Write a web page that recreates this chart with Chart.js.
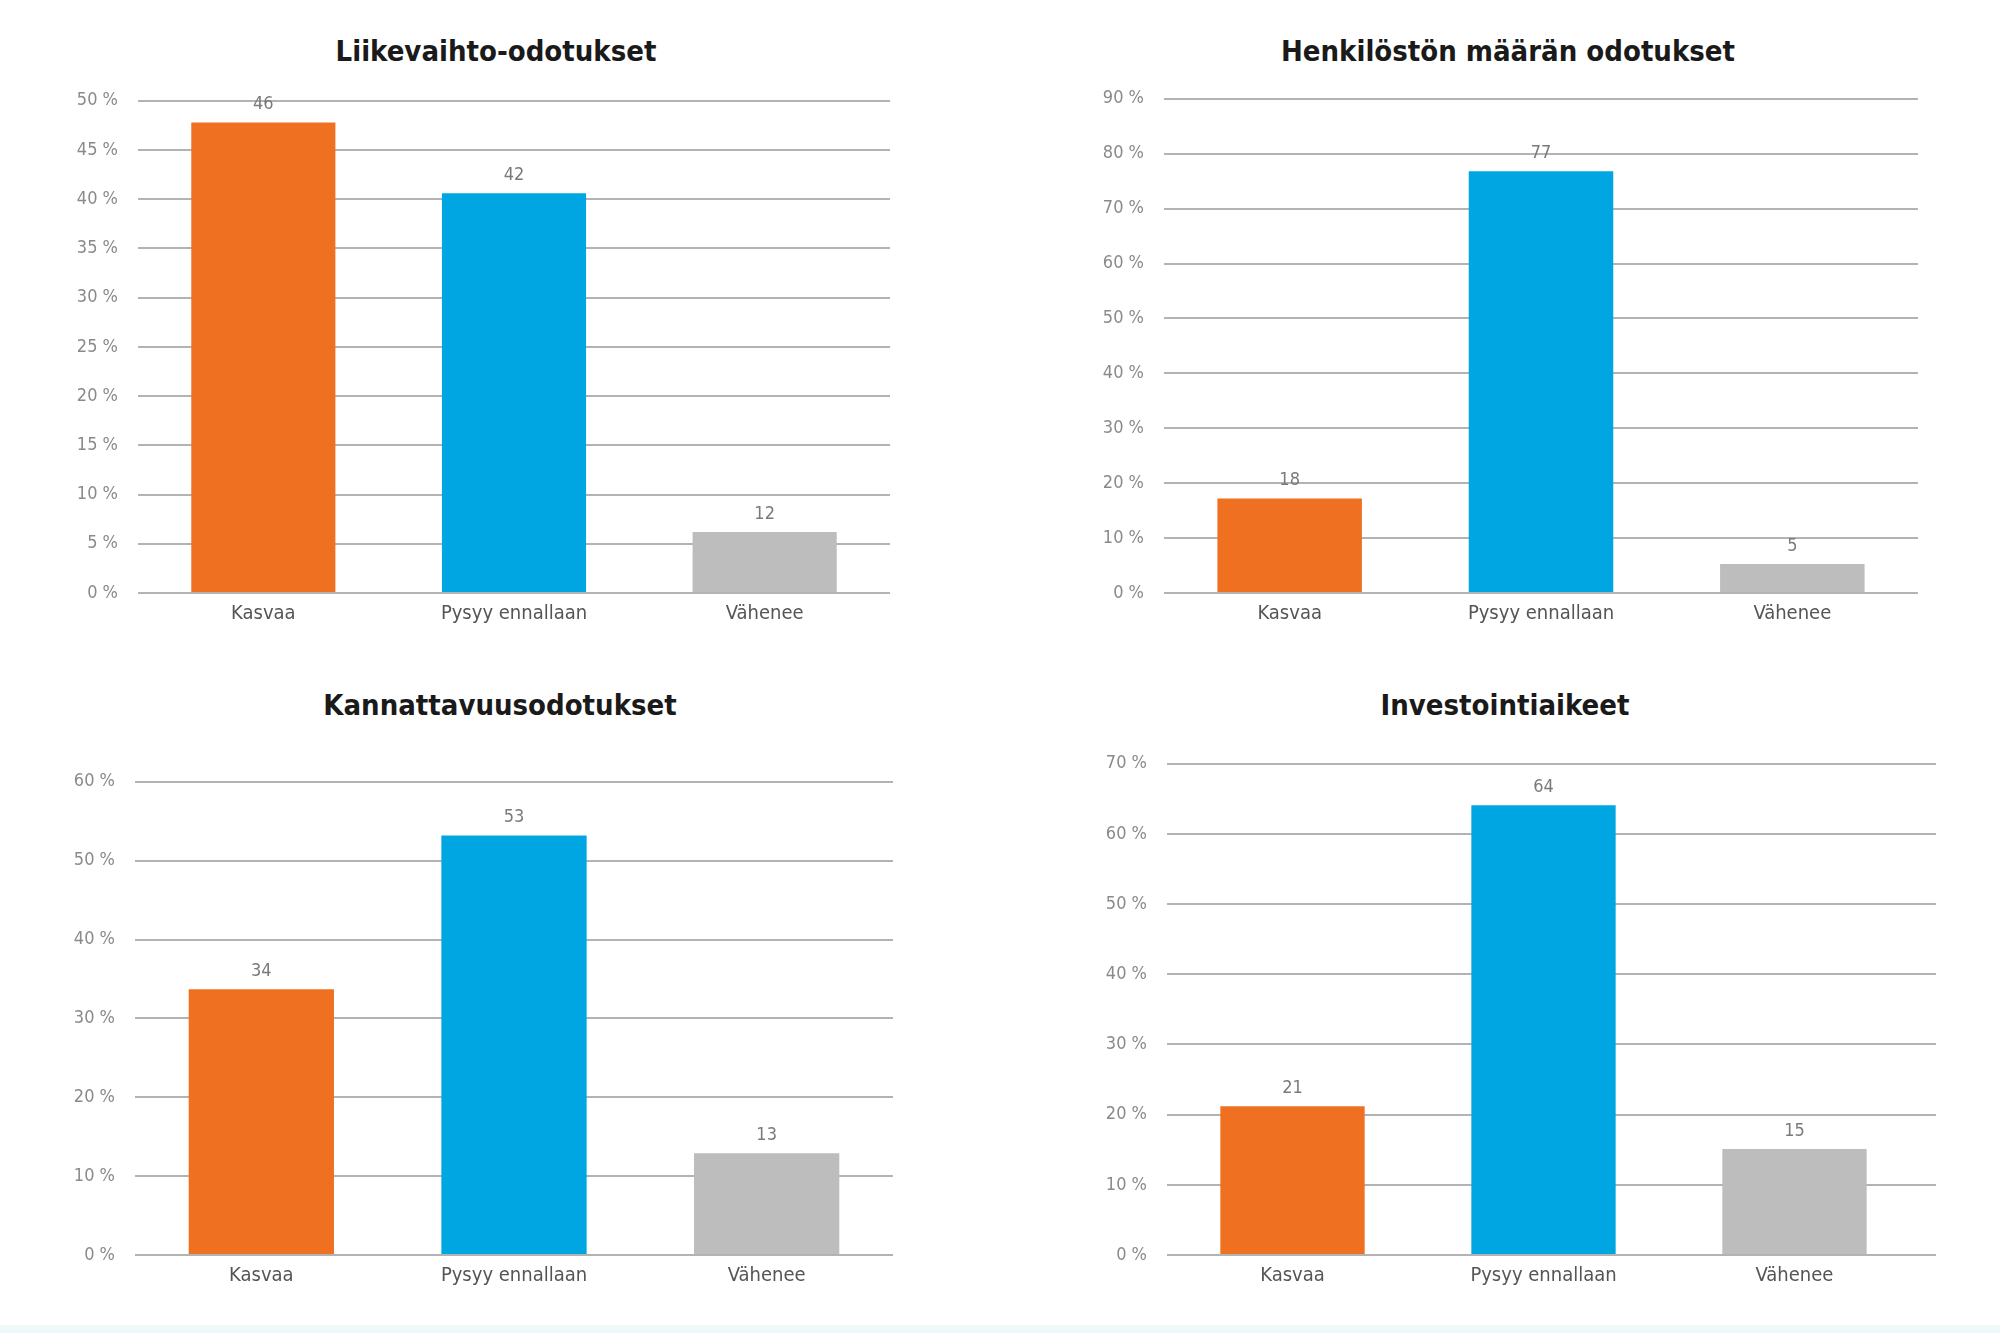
<!DOCTYPE html>
<html>
<head>
<meta charset="utf-8">
<script src="https://cdn.jsdelivr.net/npm/chart.js@4.4.1/dist/chart.umd.min.js"></script>
<style>
  body { margin: 0; background: #fff; width: 2000px; height: 1333px; position: relative; overflow: hidden; }
  .box { position: absolute; }
  .title { position: absolute; width: 700px; text-align: center; font-family: 'DejaVu Sans Condensed', 'DejaVu Sans', sans-serif; font-weight: bold; font-size: 29px; color: #1a1a1a; }
  .strip { position: absolute; left: 0; top: 1325px; width: 2000px; height: 8px; background: #eefafa; }
</style>
</head>
<body>

<div class="title" style="left:146px; top:34px;">Liikevaihto-odotukset</div>
<div class="title" style="left:1158px; top:34px;">Henkilöstön määrän odotukset</div>
<div class="title" style="left:150px; top:688px;">Kannattavuusodotukset</div>
<div class="title" style="left:1155px; top:688px;">Investointiaikeet</div>

<div class="box" id="b1"><canvas id="c1"></canvas></div>
<div class="box" id="b2"><canvas id="c2"></canvas></div>
<div class="box" id="b3"><canvas id="c3"></canvas></div>
<div class="box" id="b4"><canvas id="c4"></canvas></div>
<div class="strip"></div>

<script>
// categories shared by all four charts
const categories = ['Kasvaa', 'Pysyy ennallaan', 'Vähenee'];
const barColors = ['#f07022', '#00a6e2', '#bdbdbe'];

// bar heights as drawn, and the numbers printed above them
const revenueValues = [47.8, 40.6, 6.2];
const revenueLabels = ['46', '42', '12'];

const staffValues = [17.2, 76.8, 5.3];
const staffLabels = ['18', '77', '5'];

const profitValues = [33.7, 53.2, 12.9];
const profitLabels = ['34', '53', '13'];

const investValues = [21.2, 64.1, 15.1];
const investLabels = ['21', '64', '15'];

// y axis ranges
const revenueAxis = { max: 50, step: 5 };
const staffAxis = { max: 90, step: 10 };
const profitAxis = { max: 60, step: 10 };
const investAxis = { max: 70, step: 10 };

const FONT = "'DejaVu Sans Condensed', 'DejaVu Sans', sans-serif";
const Y_W = 80, PAD_TOP = 30, PAD_RIGHT = 24, X_H = 50;
const GRID_COLOR = '#b3b3b3';

const valueLabels = {
  id: 'valueLabels',
  afterDatasetsDraw(chart, args, opts) {
    const ctx = chart.ctx;
    const meta = chart.getDatasetMeta(0);
    ctx.save();
    ctx.font = '18px ' + FONT;
    ctx.fillStyle = '#7a7a7a';
    ctx.textAlign = 'center';
    ctx.textBaseline = 'bottom';
    meta.data.forEach((bar, i) => {
      ctx.fillText(opts.labels[i], bar.x, bar.y - 9);
    });
    ctx.restore();
  }
};

// last chart's gridlines run a bit past the bar area on the right
const gridExtend = {
  id: 'gridExtend',
  beforeDatasetsDraw(chart, args, opts) {
    if (!opts.right) return;
    const ctx = chart.ctx;
    const y = chart.scales.y;
    ctx.save();
    ctx.strokeStyle = GRID_COLOR;
    ctx.lineWidth = 2;
    y.ticks.forEach((t) => {
      const py = Math.round(y.getPixelForValue(t.value));
      ctx.beginPath();
      ctx.moveTo(chart.chartArea.right, py);
      ctx.lineTo(chart.chartArea.right + opts.right, py);
      ctx.stroke();
    });
    ctx.restore();
  }
};

function makeChart(id, box, values, labels, axis, extra) {
  // box = grid left, grid right, top gridline y, zero line y (page px)
  const el = document.getElementById('b' + id);
  const w = Math.round(box.right - box.left + Y_W + PAD_RIGHT);
  const h = Math.round(box.zero - box.top + PAD_TOP + X_H);
  el.style.left = Math.round(box.left - Y_W) + 'px';
  el.style.top = Math.round(box.top - PAD_TOP) + 'px';
  const cv = document.getElementById('c' + id);
  cv.width = w;
  cv.height = h;

  new Chart(cv.getContext('2d'), {
    type: 'bar',
    data: {
      labels: categories,
      datasets: [{
        data: values,
        backgroundColor: barColors,
        categoryPercentage: 1,
        barPercentage: 0.575
      }]
    },
    options: {
      responsive: false,
      animation: false,
      devicePixelRatio: 1,
      layout: { padding: { top: PAD_TOP, right: PAD_RIGHT, left: 0, bottom: 0 } },
      plugins: {
        legend: { display: false },
        tooltip: { enabled: false },
        valueLabels: { labels: labels },
        gridExtend: { right: extra || 0 }
      },
      scales: {
        x: {
          grid: { display: false, drawTicks: false },
          border: { display: false },
          ticks: { color: '#555', font: { family: FONT, size: 20 }, padding: 9 },
          afterFit: (s) => { s.height = X_H; }
        },
        y: {
          min: 0,
          max: axis.max,
          grid: { color: GRID_COLOR, lineWidth: 2, drawTicks: false },
          border: { display: false },
          ticks: {
            stepSize: axis.step,
            color: '#8a8a8a',
            font: { family: FONT, size: 18 },
            padding: 20,
            callback: (v) => v + ' %'
          },
          afterFit: (s) => { s.width = Y_W; }
        }
      }
    },
    plugins: [valueLabels, gridExtend]
  });
}

makeChart(1, { left: 138, right: 890, top: 100, zero: 593 }, revenueValues, revenueLabels, revenueAxis);
makeChart(2, { left: 1164, right: 1918, top: 98, zero: 593 }, staffValues, staffLabels, staffAxis);
makeChart(3, { left: 135, right: 893, top: 781, zero: 1255 }, profitValues, profitLabels, profitAxis);
makeChart(4, { left: 1167, right: 1920, top: 763, zero: 1255 }, investValues, investLabels, investAxis, 16);
</script>
</body>
</html>
